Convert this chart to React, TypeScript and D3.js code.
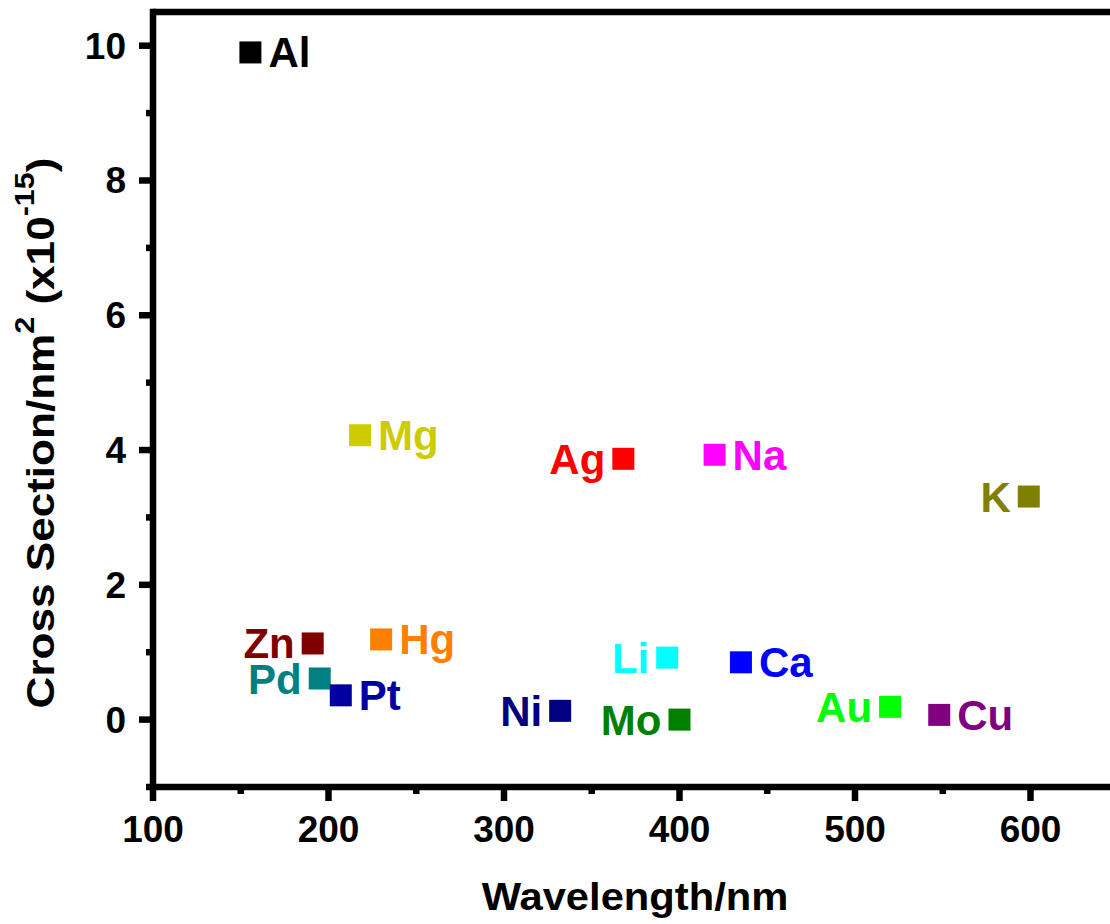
import React from "react";
import * as d3 from "d3";

const elements = ["Al", "Mg", "Ag", "Na", "K", "Zn", "Hg", "Pd", "Pt", "Ni", "Li", "Ca", "Mo", "Au", "Cu"];
const wavelengths = [155.5, 218, 368, 420, 599, 191, 230, 195, 207, 332, 393, 435, 400, 520, 548];
const crossSections = [9.9, 4.22, 3.87, 3.93, 3.31, 1.13, 1.19, 0.61, 0.36, 0.13, 0.92, 0.85, 0.0, 0.19, 0.07];
const colors = [
  "#000000", "#CCCC00", "#FF0000", "#FF00FF", "#808000", "#800000", "#FF8000",
  "#008080", "#0000A0", "#000080", "#00FFFF", "#0000FF", "#008000", "#00FF00", "#800080",
];
const labelSides = ["right", "right", "left", "right", "left", "left", "right", "left", "right", "left", "left", "right", "left", "left", "right"];

const xMajorTicks = [100, 200, 300, 400, 500, 600];
const xMinorTicks = [150, 250, 350, 450, 550];
const yMajorTicks = [0, 2, 4, 6, 8, 10];
const yMinorTicks = [-1, 1, 3, 5, 7, 9];

const W = 1110;
const H = 924;
const FONT = "'Liberation Sans', Arial, sans-serif";

export default function App() {
  const x = d3.scaleLinear().domain([100, 650]).range([153, 1118.25]);
  const y = d3.scaleLinear().domain([-1, 10.5]).range([787, 12]);
  const lw = 6.5;
  const sq = 22;
  const [x0, x1] = x.range();
  const [yb, yt] = y.range();

  return (
    <svg width={W} height={H} style={{ position: "absolute", left: 0, top: 0, background: "#fff" }} fontFamily={FONT}>
      <rect x={0} y={0} width={W} height={H} fill="#fff" />
      {/* frame */}
      <line x1={x0} x2={x1 + 10} y1={yb} y2={yb} stroke="#000" strokeWidth={lw} />
      <line x1={x0} x2={x1 + 10} y1={yt} y2={yt} stroke="#000" strokeWidth={lw} />
      <line x1={x0} x2={x0} y1={yt - lw / 2} y2={yb + lw / 2} stroke="#000" strokeWidth={lw} />
      <line x1={x1} x2={x1} y1={yt - lw / 2} y2={yb + lw / 2} stroke="#000" strokeWidth={lw} />
      {/* x ticks */}
      {xMajorTicks.map((t) => (
        <g key={"xM" + t}>
          <line x1={x(t)} x2={x(t)} y1={yb} y2={yb + 14} stroke="#000" strokeWidth={lw} />
          <text x={x(t)} y={842} textAnchor="middle" fontSize={37} fontWeight="bold">{t}</text>
        </g>
      ))}
      {xMinorTicks.map((t) => (
        <line key={"xm" + t} x1={x(t)} x2={x(t)} y1={yb} y2={yb + 7} stroke="#000" strokeWidth={lw} />
      ))}
      {/* y ticks */}
      {yMajorTicks.map((t) => (
        <g key={"yM" + t}>
          <line x1={x0} x2={x0 - 14} y1={y(t)} y2={y(t)} stroke="#000" strokeWidth={lw} />
          <text x={126} y={y(t) + 13} textAnchor="end" fontSize={37} fontWeight="bold">{t}</text>
        </g>
      ))}
      {yMinorTicks.map((t) => (
        <line key={"ym" + t} x1={x0} x2={x0 - 7} y1={y(t)} y2={y(t)} stroke="#000" strokeWidth={lw} />
      ))}
      {/* axis titles */}
      <text transform="translate(635,910) scale(1.07,1)" textAnchor="middle" fontSize={39} fontWeight="bold">
        Wavelength/nm
      </text>
      <text transform="translate(54,433) rotate(-90) scale(1.13,1)" textAnchor="middle" fontSize={39} fontWeight="bold">
        Cross Section/nm
        <tspan dy={-20} fontSize={27}>2</tspan>
        <tspan dy={20}>{"  (x10"}</tspan>
        <tspan dy={-20} fontSize={27}>-15</tspan>
        <tspan dy={20}>)</tspan>
      </text>
      {/* points */}
      {elements.map((el, i) => {
        const cx = x(wavelengths[i]);
        const cy = y(crossSections[i]);
        const right = labelSides[i] === "right";
        return (
          <g key={el}>
            <rect x={cx - sq / 2} y={cy - sq / 2} width={sq} height={sq} fill={colors[i]} />
            <text
              x={right ? cx + 18 : cx - 18}
              y={cy + 15}
              textAnchor={right ? "start" : "end"}
              fontSize={42}
              fontWeight="bold"
              fill={colors[i]}
            >
              {el}
            </text>
          </g>
        );
      })}
    </svg>
  );
}
